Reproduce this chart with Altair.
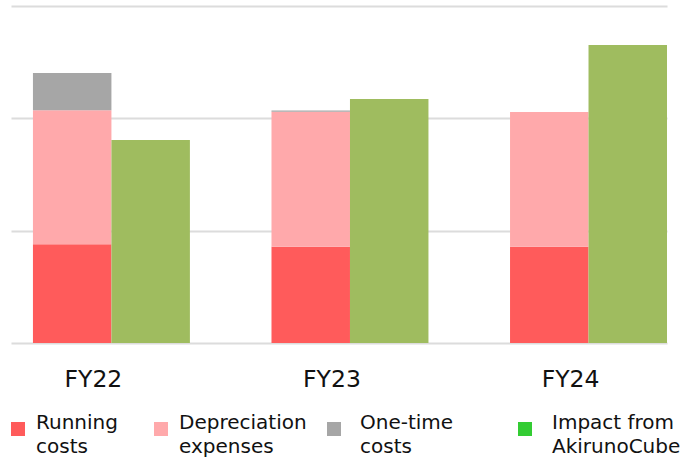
import json
import altair as alt
import pandas as pd

years = ["FY22", "FY23", "FY24"]
categories = ["Running costs", "Depreciation expenses", "One-time costs", "Impact from AkirunoCube"]
legend_lines = [["Running", "costs"], ["Depreciation", "expenses"], ["One-time", "costs"], ["Impact from", "AkirunoCube"]]
groups = ["cost", "cost", "cost", "impact"]
running = [0.879, 0.857, 0.857]
depreciation = [1.193, 1.202, 1.199]
one_time = [0.332, 0.01, 0.0]
impact = [1.807, 2.172, 2.653]
bar_colors = ["#FF5B5B", "#FFA9AB", "#A6A6A6", "#9FBC5F"]
legend_colors = ["#FF5B5B", "#FFA9AB", "#A6A6A6", "#33CC33"]
legend_x = [-3, 140, 313, 504]
legend_label_offset = [8, 8, 16, 17]

series = [running, depreciation, one_time, impact]
rows = []
for yi, yr in enumerate(years):
    for ci, cat in enumerate(categories):
        rows.append({"year": yr, "category": cat, "group": groups[ci],
                     "order": ci, "value": series[ci][yi]})
df = pd.DataFrame(rows)

FONT = "DejaVu Sans"

x = alt.X("year:N", sort=years, title=None,
          scale=alt.Scale(paddingInner=0.342, paddingOuter=0.046, align=1),
          axis=alt.Axis(labelAngle=0, domain=False, ticks=False, grid=False,
                        labelFont=FONT, labelFontSize=23.5, labelColor="#111111",
                        labelPadding=24, labelOffset=-18))
xo = alt.XOffset("group:N", sort=["cost", "impact"],
                 scale=alt.Scale(paddingInner=0, paddingOuter=0))
y = alt.Y("value:Q", title=None, stack="zero",
          scale=alt.Scale(domain=[0, 3], nice=False),
          axis=alt.Axis(values=[0, 1, 2, 3], labels=False, domain=False, ticks=False,
                        grid=True, gridColor="#DCDCDC", gridWidth=2))

bars = alt.Chart(df).mark_bar().encode(
    x=x, xOffset=xo, y=y,
    color=alt.Color("category:N", scale=alt.Scale(domain=categories, range=bar_colors), legend=None),
    order=alt.Order("order:Q"),
)

layers = [bars]
for ci, cat in enumerate(categories):
    lyr = alt.Chart(df).transform_filter(
        alt.datum.category == cat
    ).mark_bar(opacity=0).encode(
        x=x, xOffset=xo, y=y,
        fill=alt.Fill("category:N", scale=alt.Scale(domain=[cat], range=[legend_colors[ci]]),
                      legend=alt.Legend(
                          title=None, orient="none", legendX=legend_x[ci], legendY=413,
                          direction="horizontal",
                          symbolType="square", symbolSize=196, symbolStrokeWidth=0,
                          symbolOpacity=1, labelOffset=legend_label_offset[ci],
                          labelFont=FONT, labelFontSize=20, labelColor="#111111",
                          labelBaseline="alphabetic", labelLimit=300, padding=0,
                          labelExpr=json.dumps(legend_lines[ci]),
                      )),
    )
    layers.append(lyr)

chart = alt.layer(*layers).resolve_scale(color="independent", fill="independent").properties(
    width=656, height=337,
    autosize=alt.AutoSizeParams(type="none"),
    padding={"left": 11, "top": 6, "right": 20, "bottom": 115},
).configure(
    view=alt.ViewConfig(stroke="transparent"),
    style={"guide-label": {"lineHeight": 24}},
)

chart.save("out.html", embed_options={"renderer": "svg", "actions": False})
